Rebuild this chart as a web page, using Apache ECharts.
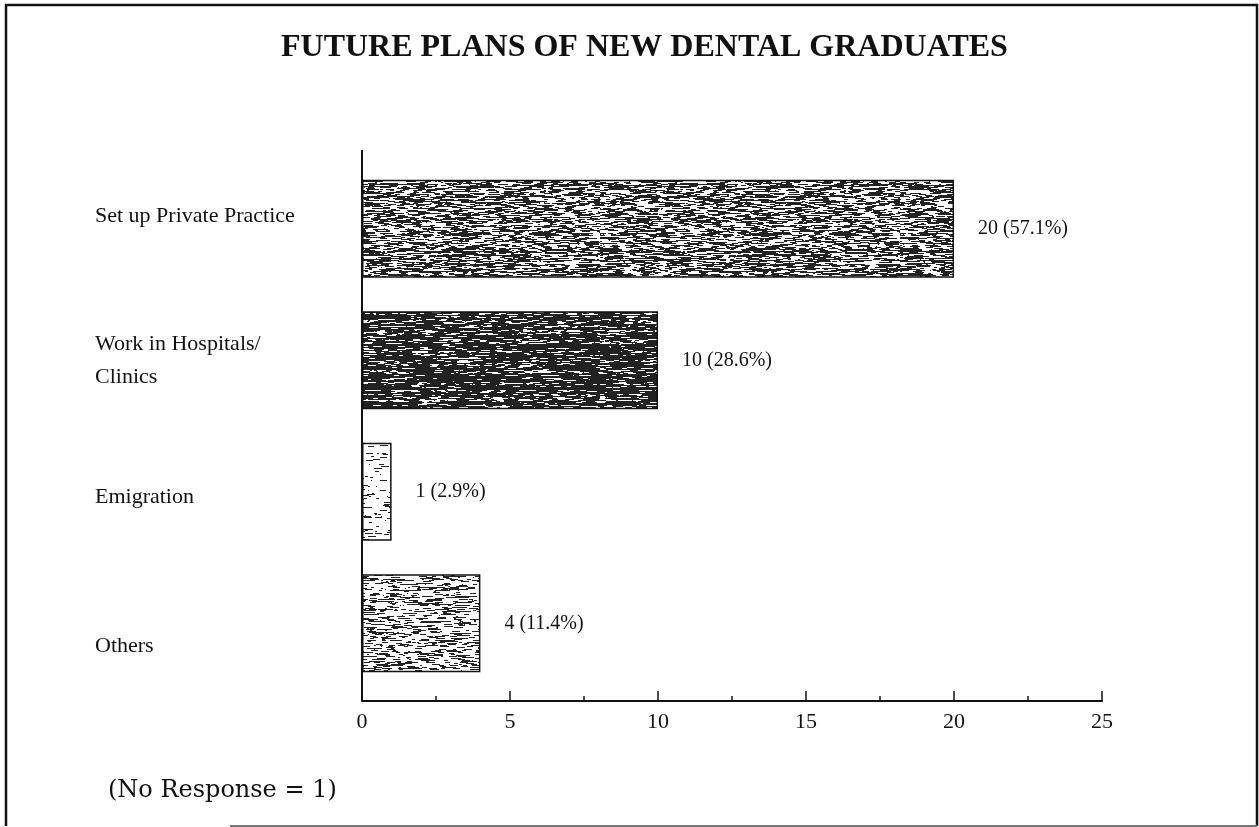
<!DOCTYPE html>
<html>
<head>
<meta charset="utf-8">
<script src="https://cdn.jsdelivr.net/npm/echarts@6/dist/echarts.min.js"></script>
<style>
html,body{margin:0;padding:0;background:#fff;}
#chart{width:1259px;height:827px;}
</style>
</head>
<body>
<div id="chart"></div>
<script>
// ---- data ----
const titleText = 'FUTURE PLANS OF NEW DENTAL GRADUATES';
const categories = ['Set up Private Practice', 'Work in Hospitals/\nClinics', 'Emigration', 'Others'];
const counts = [20, 10, 1, 4];
const percents = ['57.1', '28.6', '2.9', '11.4'];
const xMin = 0, xMax = 25, xInterval = 5;
const noteText = '(No Response = 1)';

// ---- scanned-texture fills (style only, seeded) ----
function prng(seed){return function(){seed|=0;seed=seed+0x6D2B79F5|0;let t=Math.imul(seed^seed>>>15,1|seed);t=t+Math.imul(t^t>>>7,61|t)^t;return((t^t>>>14)>>>0)/4294967296;};}
function texture(density, seed){
  const c=document.createElement('canvas'); c.width=300; c.height=100;
  const g=c.getContext('2d'); g.fillStyle='#fff'; g.fillRect(0,0,c.width,c.height);
  const r=prng(seed);
  g.fillStyle='#222';
  for(let y=0;y<c.height;y+=1){
    let x=0;
    const rowD=density*(0.75+0.5*r());
    while(x<c.width){
      const len=1+Math.floor(r()*9);
      if(r()<rowD){ g.fillRect(x,y,len,1); }
      x+=len;
    }
  }
  return {image:c, repeat:'repeat'};
}
const fills=[texture(0.55,11),texture(0.8,23),texture(0.1,37),texture(0.33,51)];

const serif='"Liberation Serif","Times New Roman",serif';
const chart=echarts.init(document.getElementById('chart'),null,{renderer:'canvas'});
const labelRich={
  c0:{fontFamily:serif,fontSize:22,color:'#111',padding:[0,0,26,0]},
  c1:{fontFamily:serif,fontSize:22,color:'#111',lineHeight:33},
  c2:{fontFamily:serif,fontSize:22,color:'#111',padding:[10,0,0,0]},
  c3:{fontFamily:serif,fontSize:22,color:'#111',padding:[46,0,0,0]}
};
chart.setOption({
  backgroundColor:'#fff',
  animation:false,
  title:{text:titleText,left:276,top:27,textStyle:{fontFamily:serif,fontWeight:'bold',fontSize:32,color:'#111'}},
  grid:{left:362,right:157,top:163,height:526,containLabel:false},
  xAxis:{type:'value',min:xMin,max:xMax,interval:xInterval,offset:12,
    axisLine:{show:true,lineStyle:{color:'#111',width:2}},
    axisTick:{show:true,inside:true,length:10,lineStyle:{color:'#111',width:1.5}},
    minorTick:{show:true,splitNumber:2,length:5,lineStyle:{color:'#111',width:1.5}},
    splitLine:{show:false},
    axisLabel:{margin:10,fontFamily:serif,fontSize:22,color:'#111'}},
  yAxis:{type:'category',data:categories,inverse:true,
    axisLine:{show:false},axisTick:{show:false},
    axisLabel:{align:'left',margin:267,
      formatter:function(v,i){return v.split('\n').map(function(s){return '{c'+i+'|'+s+'}';}).join('\n');},
      rich:labelRich}},
  series:[{type:'bar',barWidth:98,
    data:counts.map(function(v,i){return {value:v,itemStyle:{color:fills[i]}};}),
    itemStyle:{borderColor:'#111',borderWidth:1.5},
    label:{show:true,position:'right',distance:24,fontFamily:serif,fontSize:20,color:'#111',
      formatter:function(p){return counts[p.dataIndex]+' ('+percents[p.dataIndex]+'%)';}}
  }],
  graphic:[
    {type:'line',shape:{x1:362,y1:150,x2:362,y2:701},style:{stroke:'#111',lineWidth:2},silent:true},
    {type:'polyline',shape:{points:[[6,826],[6,5],[1257,5],[1257,826]]},style:{stroke:'#111',lineWidth:2.5,fill:null},silent:true},
    {type:'line',shape:{x1:230,y1:826,x2:1257,y2:826},style:{stroke:'#777',lineWidth:2},silent:true},
    {type:'text',left:108,top:779,style:{text:noteText,fontFamily:'"DejaVu Serif",serif',fontSize:24,fill:'#111'},silent:true}
  ]
});
</script>
</body>
</html>
